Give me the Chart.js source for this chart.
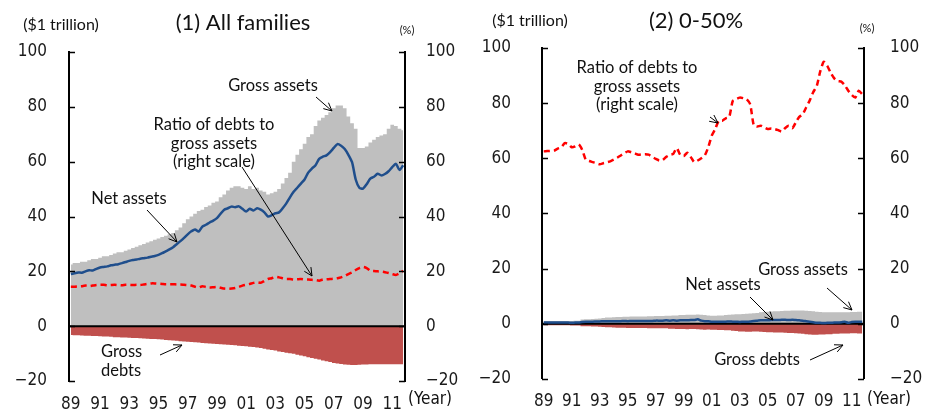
<!DOCTYPE html>
<html>
<head>
<meta charset="utf-8">
<script src="https://cdn.jsdelivr.net/npm/chart.js@4.4.1/dist/chart.umd.min.js"></script>
<style>
  html, body { margin: 0; padding: 0; background: #fff; }
  #wrap { position: relative; width: 929px; height: 412px; }
  .panel { position: absolute; top: 0; height: 412px; }
</style>
</head>
<body>
<div id="wrap">
  <div class="panel" style="left:0;width:465px"><canvas id="c1" width="465" height="412"></canvas></div>
  <div class="panel" style="left:465px;width:464px"><canvas id="c2" width="464" height="412"></canvas></div>
</div>
<script>
// quarterly data, 1989Q1 - 2011Q4
const firstYear = 1989;
const lastYear = 2011;
const yearTicks = ["89", "91", "93", "95", "97", "99", "01", "03", "05", "07", "09", "11"];

// (1) All families  ($1 trillion, ratio in %)
const grossAssetsAll = [
  22.5, 23, 23, 23.5,  23.5, 24, 24.5, 24.5,  25, 25.5, 25.5, 26,  26.5, 27, 27, 27.5,
  28, 28.5, 29, 29.5,  30, 30.5, 31, 31.5,  32, 32.5, 33, 33.5,  34, 35, 36, 37.5,
  39, 40, 41, 42,  42.5, 43.5, 44, 45,  45.5, 47, 48, 49.5,  50.5, 51, 51, 50.5,
  50, 51, 50, 50.5,  49.5, 49, 48, 48.5,  49, 50, 52, 54,  56, 60, 62.5, 64.5,
  66.5, 69, 70, 73,  75, 76, 77, 78,  79.5, 80.5, 80.5, 79.5,  76.5, 74, 72, 65,
  65, 65.5, 67, 68,  69, 69.5, 70, 72,  73.5, 73, 72, 71.5
];
const grossDebtsAll = [
  -3.2, -3.3, -3.3, -3.4,  -3.5, -3.5, -3.6, -3.6,  -3.7, -3.8, -3.8, -3.9,  -4.0, -4.0, -4.1, -4.1,
  -4.2, -4.3, -4.3, -4.4,  -4.5, -4.6, -4.7, -4.7,  -4.8, -4.9, -5.0, -5.1,  -5.2, -5.3, -5.5, -5.6,
  -5.7, -5.8, -5.9, -6.0,  -6.1, -6.2, -6.3, -6.4,  -6.5, -6.6, -6.7, -6.8,  -6.9, -7.0, -7.1, -7.2,
  -7.3, -7.5, -7.6, -7.8,  -8.0, -8.2, -8.5, -8.7,  -8.9, -9.2, -9.4, -9.7,  -9.9, -10.1, -10.4, -10.7,
  -11.0, -11.3, -11.6, -11.9,  -12.2, -12.5, -12.8, -13.1,  -13.4, -13.6, -13.8, -14.0,  -14.1, -14.2, -14.2, -14.1,
  -14.0, -14.0, -13.9, -13.9,  -13.9, -13.9, -13.9, -13.9,  -13.9, -13.9, -13.9, -13.9
];
const netAssetsAll = [
  19, 19.3, 19.6, 19.5,  20, 20.4, 20.3, 20.9,  21.4, 21.6, 21.8, 22.2,  22.4, 22.6, 23, 23.4,
  23.8, 24.1, 24.3, 24.6,  24.8, 25, 25.3, 25.6,  26, 26.6, 27.3, 28,  28.8, 29.9, 31, 32.2,
  33.5, 34.6, 35.3, 34.5,  36.3, 37, 37.8, 38.5,  39.4, 41, 42.5, 43,  43.6, 43.4, 43.7, 42.8,
  41.8, 42.8, 42.2, 43,  42.5, 41.5, 40, 40.5,  41.2, 41.5, 43, 44.8,  47, 49, 50.5, 52,
  53.5, 56, 57.5, 58.7,  61, 61.8, 62.3, 63.5,  65, 66.4, 65.8, 64.6,  62.5, 59.8, 53.5, 50.5,
  50.2, 51.8, 53.8, 54.5,  55.6, 55, 55.5, 56.5,  58, 59.2, 57, 58.7
];
const debtRatioAll = [
  14.4, 14.4, 14.5, 14.6,  14.8, 14.6, 14.8, 15,  15.1, 15.1, 14.9, 15,  15.1, 15, 14.9, 15.1,
  15.1, 15, 15.1, 15,  15.2, 15.4, 15.6, 15.6,  15.5, 15.4, 15.3, 15.3,  15.3, 15.2, 15.2, 15.1,
  15, 14.8, 14.4, 14.1,  14.6, 14.3, 14.1, 14.2,  14.3, 14, 13.7, 13.6,  13.7, 13.9, 14.3, 14.8,
  15.1, 15.4, 15.8, 16,  15.8, 16.5, 17.2, 17.5,  18, 17.8, 17.5, 17.2,  17.2, 17, 17.1, 17.2,
  17, 17, 16.9, 16.8,  16.6, 17, 17.1, 17.2,  17.3, 17.5, 17.8, 18.3,  19, 19.6, 20.5, 21.2,
  21.6, 21.2, 20.2, 20.1,  20, 19.9, 19.7, 19.4,  19, 18.7, 19.3, 20.2
];

// (2) 0-50%
const grossAssetsLow = [
  1.0, 1.0, 1.0, 1.0,  1.0, 1.0, 1.0, 1.0,  1.0, 1.1, 1.1, 1.5,  1.6, 1.6, 1.7, 1.8,
  1.9, 2.1, 2.2, 2.2,  2.3, 2.4, 2.4, 2.5,  2.5, 2.6, 2.6, 2.6,  2.6, 2.6, 2.7, 2.7,
  2.8, 2.8, 2.8, 2.9,  2.9, 3.0, 3.0, 3.1,  3.1, 3.2, 3.2, 3.2,  3.3, 3.2, 3.1, 3.0,
  2.9, 2.9, 3.0, 3.0,  3.1, 3.2, 3.3, 3.4,  3.4, 3.5, 3.6, 3.7,  3.8, 3.9, 4.1, 4.2,
  4.3, 4.4, 4.5, 4.5,  4.6, 4.7, 4.7, 4.8,  4.8, 4.8, 4.8, 4.7,  4.6, 4.5, 4.3, 4.2,
  4.1, 4.1, 4.1, 4.1,  4.1, 4.1, 4.1, 4.1,  4.2, 4.2, 4.3, 4.3
];
const grossDebtsLow = [
  -0.6, -0.6, -0.6, -0.6,  -0.6, -0.6, -0.6, -0.6,  -0.7, -0.7, -0.7, -0.9,  -0.9, -0.9, -1.0, -1.0,
  -1.1, -1.2, -1.3, -1.3,  -1.4, -1.5, -1.5, -1.5,  -1.6, -1.6, -1.6, -1.6,  -1.6, -1.6, -1.7, -1.7,
  -1.7, -1.7, -1.7, -1.7,  -1.8, -1.8, -1.9, -1.9,  -1.9, -2.0, -1.9, -1.9,  -2.0, -2.1, -2.2, -2.1,
  -2.2, -2.2, -2.3, -2.3,  -2.4, -2.4, -2.6, -2.7,  -2.8, -2.8, -2.9, -2.9,  -2.8, -2.8, -2.9, -3.0,
  -3.1, -3.1, -3.2, -3.2,  -3.2, -3.3, -3.4, -3.4,  -3.5, -3.6, -3.7, -3.8,  -3.9, -4.0, -4.0, -3.9,
  -3.9, -3.8, -3.8, -3.7,  -3.7, -3.6, -3.6, -3.6,  -3.5, -3.5, -3.6, -3.6
];
const netAssetsLow = [
  0.4, 0.4, 0.4, 0.4,  0.4, 0.4, 0.4, 0.4,  0.3, 0.4, 0.4, 0.6,  0.7, 0.7, 0.7, 0.8,
  0.8, 0.9, 0.9, 0.9,  0.9, 0.9, 0.9, 1.0,  0.9, 1.0, 1.0, 1.0,  1.0, 1.0, 1.0, 1.0,
  1.1, 1.1, 1.1, 1.2,  1.1, 1.2, 1.1, 1.2,  1.2, 1.2, 1.3, 1.3,  1.6, 1.1, 0.9, 0.9,
  0.7, 0.7, 0.7, 0.7,  0.7, 0.8, 0.7, 0.7,  0.6, 0.7, 0.7, 0.8,  1.0, 1.1, 1.2, 1.2,
  1.2, 1.3, 1.3, 1.3,  1.4, 1.4, 1.3, 1.4,  1.3, 1.2, 1.1, 0.9,  0.7, 0.5, 0.3, 0.3,
  0.2, 0.3, 0.3, 0.4,  0.4, 0.5, 0.7, 0.3,  0.6, 0.7, 0.7, 0.7
];
const debtRatioLow = [
  62.5, 62.6, 62.7, 62.8,  63.5, 64, 65.5, 65.2,  64, 64.3, 65, 63,  59.5, 59, 58.6, 58.2,
  57.8, 58.2, 58.5, 58.9,  59.5, 60.2, 61, 61.8,  62.5, 62.2, 61.8, 61.3,  61.4, 61.5, 61.3, 60.5,
  59.8, 59.2, 59.4, 60.5,  61.2, 61.6, 63.7, 61.2,  60.8, 62, 60.5, 58.6,  59.2, 60, 61, 64,
  68.2, 70.6, 73.6, 73.6,  74.5, 75, 80.8, 81.5,  82, 81.8, 81.4, 79.5,  72, 71.5, 71.8, 71.2,
  70.6, 70.8, 70.6, 70.2,  69.7, 71, 71.8, 70.9,  73, 75, 76, 78.5,  81, 84, 86.2, 91.5,
  95, 93.5, 91, 89,  88, 87.8, 86.5, 84.5,  83, 82, 84.5, 83.2
];

const quarterLabels = [];
for (let y = firstYear; y <= lastYear; y++) {
  for (let q = 1; q <= 4; q++) quarterLabels.push(y + "Q" + q);
}

const tickFont = {
  family: "'Liberation Sans Narrow', 'DejaVu Sans Condensed', 'Roboto Condensed', Roboto, sans-serif",
  size: 17,
};
const textFont = "Lato, 'Open Sans', sans-serif";

function arrow(ctx, x1, y1, x2, y2) {
  const ang = Math.atan2(y2 - y1, x2 - x1);
  const h = 9;
  ctx.beginPath();
  ctx.moveTo(x1, y1);
  ctx.lineTo(x2, y2);
  ctx.moveTo(x2 - h * Math.cos(ang - 0.45), y2 - h * Math.sin(ang - 0.45));
  ctx.lineTo(x2, y2);
  ctx.lineTo(x2 - h * Math.cos(ang + 0.45), y2 - h * Math.sin(ang + 0.45));
  ctx.stroke();
}

// zero line, inside ticks, headers and notes
const overlay = {
  id: "overlay",
  afterDatasetDraw(chart, args) {
    if (args.index !== 2) return; // right after the gross assets area
    const { ctx, chartArea: a, scales } = chart;
    const y0 = scales.y.getPixelForValue(0);
    ctx.save();
    ctx.strokeStyle = "#000";
    ctx.lineWidth = 2;
    ctx.beginPath();
    ctx.moveTo(a.left, y0);
    ctx.lineTo(a.right, y0);
    ctx.stroke();
    ctx.restore();
  },
  afterDraw(chart, args, opts) {
    const { ctx, chartArea: a, scales } = chart;
    ctx.save();
    ctx.strokeStyle = "#000";
    ctx.lineWidth = 1.5;
    for (let v = -20; v <= 100; v += 20) {
      const py = Math.round(scales.y.getPixelForValue(v)) + 0.5;
      ctx.beginPath();
      ctx.moveTo(a.left, py); ctx.lineTo(a.left + 6, py);
      ctx.moveTo(a.right - 6, py); ctx.lineTo(a.right, py);
      ctx.stroke();
    }
    ctx.fillStyle = "#111";
    ctx.textBaseline = "middle";
    ctx.textAlign = "center";
    ctx.font = "22px " + textFont;
    ctx.fillText(opts.title, opts.titleX, opts.titleY);
    ctx.font = "16px " + textFont;
    ctx.fillText("($1 trillion)", opts.unitX, opts.unitY);
    ctx.font = "11px " + textFont;
    ctx.fillText("(%)", opts.pctX, opts.pctY);
    ctx.font = tickFont.size + "px " + tickFont.family;
    ctx.textAlign = "left";
    ctx.fillText("(Year)", opts.yearX, opts.yearY);
    ctx.font = "16.5px " + textFont;
    opts.notes.forEach((n) => {
      ctx.textAlign = n.align || "center";
      n.lines.forEach((t, i) => ctx.fillText(t, n.x, n.y + i * 18.5));
    });
    ctx.strokeStyle = "#000";
    ctx.lineWidth = 1;
    opts.arrows.forEach((r) => arrow(ctx, r[0], r[1], r[2], r[3]));
    ctx.restore();
  },
};

function makePanel(id, assets, debts, net, ratio, lay, texts) {
  const ctx = document.getElementById(id).getContext("2d");
  return new Chart(ctx, {
    type: "line",
    data: {
      labels: quarterLabels,
      datasets: [
        {
          label: "Net assets",
          data: net,
          borderColor: "#1F4E8C",
          borderWidth: 2.5,
          pointRadius: 0,
          tension: 0.25,
          yAxisID: "y",
          order: 1,
        },
        {
          label: "Ratio of debts to gross assets",
          data: ratio,
          borderColor: "#FF0000",
          borderWidth: 2.5,
          borderDash: [6, 4],
          pointRadius: 0,
          tension: 0.2,
          yAxisID: "y1",
          order: 0,
        },
        {
          // quarterly columns, drawn as a stepped area so they join without seams
          label: "Gross assets",
          data: assets,
          stepped: "middle",
          fill: "origin",
          backgroundColor: "#BFBFBF",
          borderWidth: 0,
          pointRadius: 0,
          yAxisID: "y",
          order: 2,
        },
        {
          label: "Gross debts",
          data: debts,
          stepped: "middle",
          fill: "origin",
          backgroundColor: "#C0504D",
          borderWidth: 0,
          pointRadius: 0,
          yAxisID: "y",
          order: 3,
        },
      ],
    },
    options: {
      responsive: false,
      animation: false,
      layout: { padding: { top: lay.top, left: 0, right: 0, bottom: 0 } },
      plugins: {
        legend: { display: false },
        tooltip: { enabled: false },
        overlay: texts,
      },
      scales: {
        x: {
          offset: true,
          grid: { display: false },
          border: { display: false },
          ticks: {
            autoSkip: false,
            maxRotation: 0,
            padding: 5,
            color: "#1a1a1a",
            font: tickFont,
            callback: (v, i) => (i % 8 === 0 ? yearTicks[i / 8] : ""),
          },
          afterFit: (s) => { s.height = lay.bottom; },
        },
        y: {
          position: "left",
          min: -20,
          max: 100,
          grid: { display: false },
          border: { display: true, color: "#000", width: 2 },
          ticks: {
            stepSize: 20,
            padding: lay.padL,
            color: "#1a1a1a",
            font: tickFont,
            callback: (v) => (v < 0 ? "\u2212" + Math.abs(v) : v),
          },
          afterFit: (s) => { s.width = lay.left; },
        },
        y1: {
          position: "right",
          min: -20,
          max: 100,
          grid: { display: false },
          border: { display: true, color: "#000", width: 2 },
          ticks: {
            stepSize: 20,
            padding: lay.padR,
            color: "#1a1a1a",
            font: tickFont,
            callback: (v) => (v < 0 ? "\u2212" + Math.abs(v) : v),
          },
          afterFit: (s) => { s.width = lay.right; },
        },
      },
    },
    plugins: [overlay],
  });
}

makePanel("c1", grossAssetsAll, grossDebtsAll, netAssetsAll, debtRatioAll,
  { top: 52, left: 69, right: 60, bottom: 31, padL: 14, padR: 13 },
  {
    title: "(1) All families", titleX: 243, titleY: 23,
    unitX: 61, unitY: 25, pctX: 407, pctY: 30, yearX: 408, yearY: 400,
    notes: [
      { lines: ["Gross assets"], x: 273, y: 86 },
      { lines: ["Ratio of debts to", "gross assets", "(right scale)"], x: 214, y: 125 },
      { lines: ["Net assets"], x: 129, y: 199 },
      { lines: ["Gross", "debts"], x: 101, y: 352, align: "left" },
    ],
    arrows: [
      [316, 97, 332, 111],
      [242, 167, 312, 276],
      [147, 210, 177, 242],
      [160, 355, 182, 345],
    ],
  });

makePanel("c2", grossAssetsLow, grossDebtsLow, netAssetsLow, debtRatioLow,
  { top: 48, left: 77, right: 65, bottom: 30, padL: 23, padR: 18 },
  {
    title: "(2) 0-50%", titleX: 231, titleY: 21,
    unitX: 65, unitY: 21, pctX: 402, pctY: 28, yearX: 402, yearY: 400,
    notes: [
      { lines: ["Ratio of debts to", "gross assets", "(right scale)"], x: 172, y: 68 },
      { lines: ["Gross assets"], x: 338, y: 270 },
      { lines: ["Net assets"], x: 258, y: 285 },
      { lines: ["Gross debts"], x: 292, y: 360 },
    ],
    arrows: [
      [245, 117, 253, 123],
      [362, 288, 387, 310],
      [285, 297, 308, 320],
      [345, 360, 378, 345],
    ],
  });
</script>
</body>
</html>
